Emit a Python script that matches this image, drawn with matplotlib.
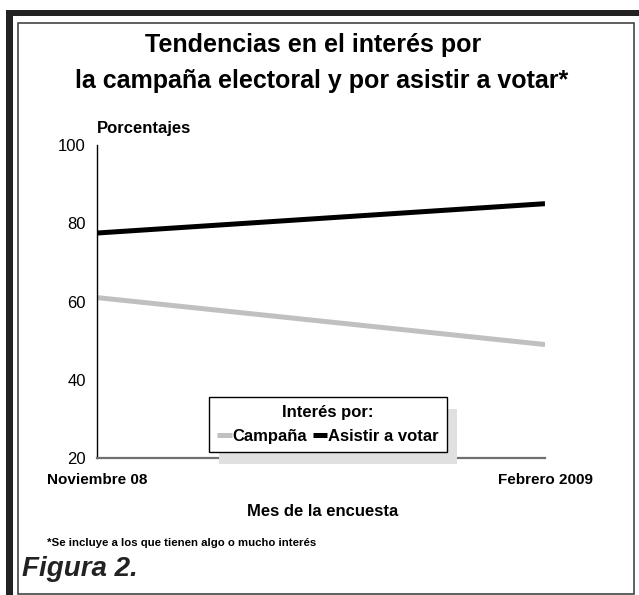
import matplotlib
matplotlib.use("Agg")
import matplotlib.pyplot as plt
from matplotlib.patches import Rectangle
from matplotlib.transforms import IdentityTransform

# data
meses = ["Noviembre 08", "Febrero 2009"]
campana = [61, 49]
votar = [77.5, 85]
series_names = ["Campaña", "Asistir a votar"]
yticks = [20, 40, 60, 80, 100]

W, H = 639, 595
plt.rcParams['font.family'] = ['Liberation Sans', 'DejaVu Sans']

fig = plt.figure(figsize=(W / 100, H / 100), dpi=100)

def fx(px):
    return px / W

def fy(py):
    return 1 - py / H

# frame around the figure
fig.patches.append(Rectangle((fx(6), 0), fx(13) - fx(6), fy(10), transform=fig.transFigure,
                             facecolor="#222222", edgecolor="none"))
fig.patches.append(Rectangle((fx(6), fy(16)), 1 - fx(6), fy(10) - fy(16), transform=fig.transFigure,
                             facecolor="#222222", edgecolor="none"))
fig.patches.append(Rectangle((fx(18), fy(594)), fx(634) - fx(18), fy(23) - fy(594),
                             transform=fig.transFigure, facecolor="none",
                             edgecolor="#444444", linewidth=1.2))

ax = fig.add_axes([fx(97), fy(458), fx(545) - fx(97), fy(145) - fy(458)])
ax.patch.set_visible(False)

x = list(range(len(meses)))
ax.plot(x, campana, color="#c0c0c0", linewidth=3.6, solid_capstyle="butt", label=series_names[0])
ax.plot(x, votar, color="black", linewidth=3.6, solid_capstyle="butt", label=series_names[1])

ax.set_xlim(0, 1)
ax.set_ylim(20, 100)
ax.set_yticks(yticks)
ax.set_yticklabels([str(v) for v in yticks], fontsize=12)
ax.set_xticks(x)
ax.set_xticklabels(meses, fontsize=11, fontweight="bold")
ax.tick_params(axis="y", length=0, pad=8)
ax.tick_params(axis="x", length=0, pad=11)
for s in ["top", "right"]:
    ax.spines[s].set_visible(False)
ax.spines["left"].set_color("black")
ax.spines["left"].set_linewidth(1)
ax.spines["bottom"].set_color("#707070")
ax.spines["bottom"].set_linewidth(1.6)

# texts
fig.text(fx(313), fy(45), "Tendencias en el interés por", ha="center", va="center",
         fontsize=18, fontweight="bold")
fig.text(fx(322), fy(81), "la campaña electoral y por asistir a votar*", ha="center", va="center",
         fontsize=18, fontweight="bold")
fig.text(fx(97), fy(129), "Porcentajes", ha="left", va="center", fontsize=12, fontweight="bold")
fig.text(fx(323), fy(511), "Mes de la encuesta", ha="center", va="center", fontsize=12,
         fontweight="bold")
fig.text(fx(47), fy(543), "*Se incluye a los que tienen algo o mucho interés", ha="left",
         va="center", fontsize=8.2, fontweight="bold")
fig.text(fx(22), fy(569), "Figura 2.", ha="left", va="center", fontsize=20,
         fontweight="bold", style="italic", color="#222222")

leg = ax.legend(loc="upper left", bbox_to_anchor=(fx(209), fy(397)), bbox_transform=fig.transFigure,
                ncol=2, title="Interés por:", fontsize=12, title_fontsize=12,
                handlelength=0.85, handletextpad=0.05, columnspacing=0.35, borderpad=0.5,
                borderaxespad=0, fancybox=False, framealpha=1, edgecolor="black")
leg.get_title().set_fontweight("bold")
for t in leg.get_texts():
    t.set_fontweight("bold")
leg.get_frame().set_linewidth(1)
leg.set_zorder(6)

fig.canvas.draw()
bb = leg.get_window_extent()
shadow = Rectangle((bb.x0 + 10, bb.y0 - 12), bb.width, bb.height, transform=IdentityTransform(),
                   facecolor="#e0e0e0", edgecolor="none", zorder=5, clip_on=False)
ax.add_artist(shadow)

fig.savefig("out.png", dpi=100)
